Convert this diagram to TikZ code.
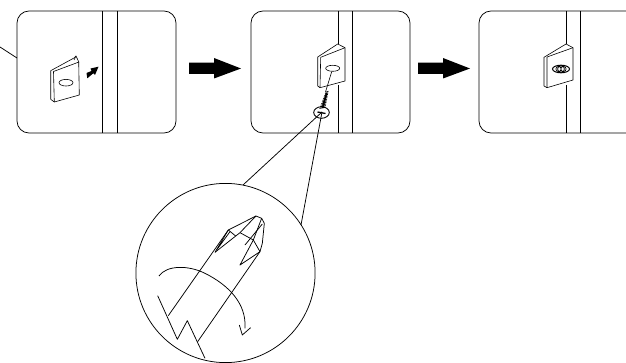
\documentclass[tikz,border=0pt]{standalone}
\begin{document}
\begin{tikzpicture}[x=1pt,y=-1pt,
  ln/.style={line width=0.75pt,black,line join=round},
  thin ln/.style={line width=0.6pt,black,line join=round},
  fatarrow/.style={fill=black,draw=none}]
\useasboundingbox[fill=white] (0,0) rectangle (626,363);
% panel 1
\draw[ln,rounded corners=12pt] (17,11) rectangle (176,133);
\draw[ln] (102,11) -- (102,133) (117,11) -- (117,133);
\draw[ln] (0,47) -- (17,58);
\draw[thin ln,fill=white] (50.7,70.7) -- (74,58) -- (76,56) -- (78.7,61.7) -- (79.3,95) -- (54.3,102) -- (50.7,99.3) -- cycle;
\draw[thin ln] (53.5,71.5) -- (79,62) (53.5,71.5) -- (54.3,102) (74,60) -- (76,56);
\draw[thin ln] (66,82.7) ellipse [x radius=7,y radius=3.3];
\fill[fatarrow] (86.5,73) -- (91.5,71) -- (90.5,68.5) -- (98.5,66.7) -- (95,75) -- (93.3,73.3) -- (87.3,78.3) -- cycle;
% arrows
\fill[fatarrow] (189,62.7) -- (214,62.7) -- (214,58) -- (241,68.5) -- (214,78.5) -- (214,74) -- (189,74) -- cycle;
\fill[fatarrow] (418,62.7) -- (443,62.7) -- (443,58) -- (470,68.5) -- (443,78.5) -- (443,74) -- (418,74) -- cycle;
% panel 2
\draw[ln,rounded corners=12pt] (251,11) rectangle (410,133);
\draw[ln] (338,11) -- (338,44) (338,85) -- (338,133) (352,11) -- (352,133);
\draw[thin ln,fill=white] (317.7,57) -- (337.7,44) -- (345,47.7) -- (345,81) -- (320,87.7) -- (317.7,86) -- cycle;
\draw[thin ln] (320.7,57.3) -- (345,47.7) (320.7,57.3) -- (320,87.7);
\draw[thin ln] (332.7,68.3) ellipse [x radius=7,y radius=3];
\draw[thin ln] (331.7,71.7) -- (325.5,92);
% screw
\foreach \t in {0,0.1,...,1.01}{
  \pgfmathsetmacro{\cx}{327-4.5*\t}
  \pgfmathsetmacro{\cy}{92+16*\t}
  \pgfmathsetmacro{\w}{1.4+1.6*\t}
  \draw[line width=0.8pt] (\cx-\w,\cy+0.4) -- (\cx+\w,\cy-0.8);
}
\draw[line width=1.7pt] (326.6,93) -- (322.5,108);
\draw[line width=0.9pt] (321.5,112.5) ellipse [x radius=7.8,y radius=5.8];
\draw[line width=1.3pt] (317.5,112) -- (325.5,113.5);
% leader lines
\draw[ln] (322,112) -- (243,185);
\draw[ln] (322,112) -- (301,225);
% detail circle
\draw[ln] (225.5,273) circle [radius=89.6];
\begin{scope}[shift={(125,200)},x=0.3333pt,y=-0.3333pt]
\draw[ln] (130,347) -- (310,90) -- (393,48) -- (410,55) -- (418,70) -- (412,130) -- (405,155) -- (218,425);
\draw[ln] (270,157) -- (310,90) (275,150) -- (315,95);
\draw[ln] (270,157) -- (345,98) -- (385,120) -- (405,155);
\draw[ln] (310,90) -- (332,108) (345,98) -- (393,48) (385,120) -- (410,55);
\draw[ln] (385,120) -- (345,195) -- (405,155) (360,135) -- (412,72);
\draw[ln] (98,287) -- (157,418) -- (187,362) -- (240,475);
\draw[ln] (102,228) .. controls (125,195) and (190,195) .. (240,220) .. controls (310,255) and (365,310) .. (360,385);
\draw[ln] (343,375) -- (352,405) -- (377,383);
\end{scope}
% panel 3
\draw[ln,rounded corners=12pt] (640,11) -- (479,11) -- (479,133) -- (640,133);
\draw[ln] (566,11) -- (566,44) (566,85) -- (566,133) (580,11) -- (580,133);
\draw[thin ln,fill=white] (544,57.3) -- (566,44) -- (573,47.7) -- (573,80) -- (547,87.7) -- (544,86) -- cycle;
\draw[thin ln] (547,57) -- (573,47.7) (547,57) -- (547,87.7);
\draw[line width=1pt] (561,69) ellipse [x radius=8.5,y radius=3.8];
\draw[line width=0.7pt] (558.5,69) circle [radius=2.6] (563.5,69) circle [radius=2.6] (561,69) circle [radius=3.4];
\end{tikzpicture}
\end{document}
